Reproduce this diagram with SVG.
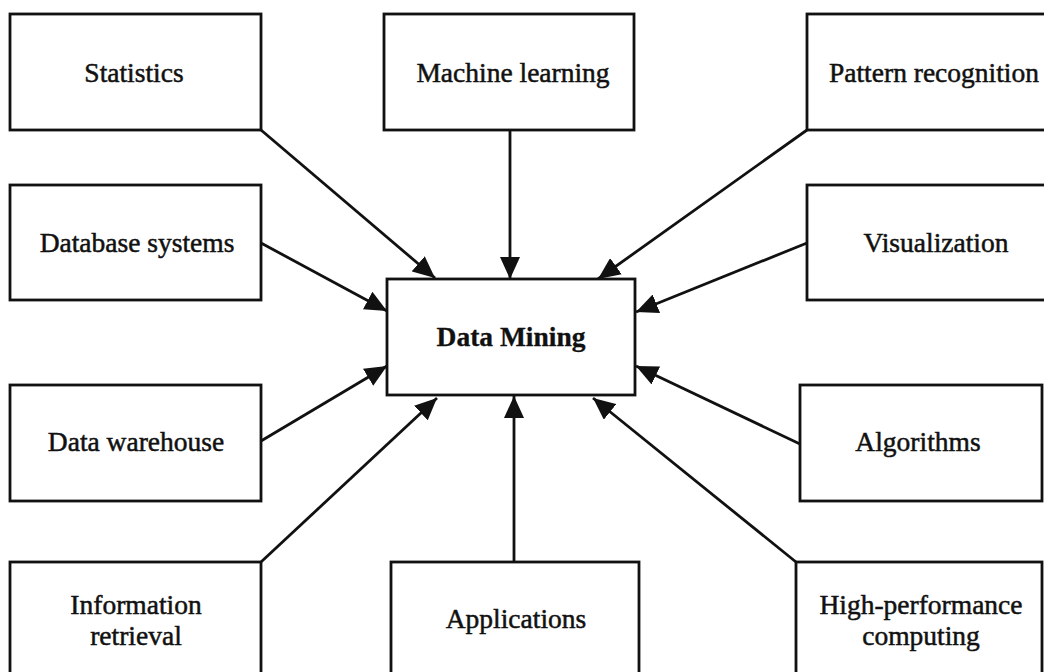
<svg xmlns="http://www.w3.org/2000/svg" width="1044" height="672" viewBox="0 0 1044 672">
<style>
.box{fill:#fff;stroke:#111;stroke-width:2.8}
.lbl{font-family:"Liberation Serif","Times New Roman",serif;font-size:27.5px;fill:#111;stroke:#111;stroke-width:0.5;text-anchor:middle}
.b{font-weight:bold;stroke-width:0.3}
.con line{stroke:#111;stroke-width:2.8;marker-end:url(#ah)}
</style>
<defs>
<marker id="ah" markerUnits="userSpaceOnUse" markerWidth="24" markerHeight="20" refX="22" refY="10" orient="auto">
<path d="M0,0 L22,10 L0,20 Z" fill="#111"/>
</marker>
</defs>
<rect width="1044" height="672" fill="#fff"/>
<g id="connectors" class="con">
<line x1="261" y1="130" x2="435" y2="278"/>
<line x1="510" y1="130" x2="510" y2="279"/>
<line x1="807" y1="130" x2="598" y2="279"/>
<line x1="261" y1="243" x2="387" y2="311"/>
<line x1="807" y1="243" x2="636" y2="312"/>
<line x1="261" y1="441" x2="387" y2="366"/>
<line x1="800" y1="444" x2="636" y2="366"/>
<line x1="261" y1="562" x2="437" y2="398"/>
<line x1="514" y1="562" x2="514" y2="396"/>
<line x1="796" y1="562" x2="593" y2="398"/>
</g>
<g id="data-mining"><rect class="box" x="387" y="279" width="248" height="116"/><text class="lbl b" x="511" y="346">Data Mining</text></g>
<g id="statistics"><rect class="box" x="10" y="14" width="251" height="116"/><text class="lbl" x="134" y="82">Statistics</text></g>
<g id="machine-learning"><rect class="box" x="384" y="14" width="250" height="116"/><text class="lbl" x="513" y="82">Machine learning</text></g>
<g id="pattern-recognition"><rect class="box" x="807" y="14" width="250" height="116"/><text class="lbl" x="934" y="82">Pattern recognition</text></g>
<g id="database-systems"><rect class="box" x="10" y="185" width="251" height="115"/><text class="lbl" x="137" y="252">Database systems</text></g>
<g id="visualization"><rect class="box" x="807" y="185" width="250" height="115"/><text class="lbl" x="936" y="252">Visualization</text></g>
<g id="data-warehouse"><rect class="box" x="10" y="385" width="251" height="116"/><text class="lbl" x="136" y="451">Data warehouse</text></g>
<g id="algorithms"><rect class="box" x="800" y="385" width="242" height="116"/><text class="lbl" x="918" y="451">Algorithms</text></g>
<g id="information-retrieval"><rect class="box" x="10" y="562" width="251" height="118"/><text class="lbl" x="136" y="614">Information</text><text class="lbl" x="136" y="645">retrieval</text></g>
<g id="applications"><rect class="box" x="391" y="562" width="248" height="118"/><text class="lbl" x="516" y="628">Applications</text></g>
<g id="high-performance-computing"><rect class="box" x="796" y="562" width="246" height="118"/><text class="lbl" x="921" y="614">High-performance</text><text class="lbl" x="921" y="645">computing</text></g>
</svg>
